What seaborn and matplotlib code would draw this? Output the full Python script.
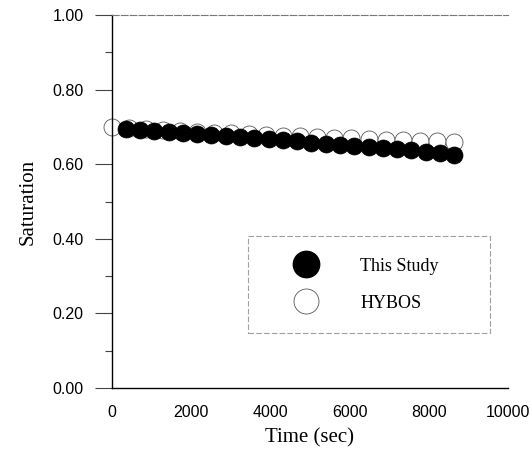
import matplotlib
matplotlib.use("Agg")
import matplotlib.pyplot as plt
import seaborn as sns
import pandas as pd
from matplotlib.lines import Line2D
from matplotlib.ticker import MultipleLocator

study_time = [360, 720, 1080, 1440, 1800, 2160, 2520, 2880, 3240, 3600, 3960, 4320,
              4680, 5040, 5400, 5760, 6120, 6480, 6840, 7200, 7560, 7920, 8280, 8640]
study_sat = [0.694, 0.692, 0.690, 0.687, 0.685, 0.682, 0.679, 0.676, 0.673, 0.670, 0.667, 0.664,
             0.661, 0.658, 0.655, 0.652, 0.649, 0.646, 0.643, 0.640, 0.637, 0.634, 0.630, 0.626]
hybos_time = [0, 432, 864, 1296, 1728, 2160, 2592, 3024, 3456, 3888, 4320, 4752,
              5184, 5616, 6048, 6480, 6912, 7344, 7776, 8208, 8640]
hybos_sat = [0.700, 0.697, 0.694, 0.691, 0.689, 0.687, 0.685, 0.683, 0.681, 0.679, 0.677, 0.675,
             0.673, 0.671, 0.670, 0.668, 0.666, 0.665, 0.663, 0.662, 0.660]
x_ticks = [0, 2000, 4000, 6000, 8000, 10000]
y_ticks = [0.0, 0.2, 0.4, 0.6, 0.8, 1.0]
series_names = ["This Study", "HYBOS"]

sns.set_style("white")
plt.rcParams['font.family'] = ['Liberation Sans', 'DejaVu Sans']
plt.rcParams['text.color'] = 'black'
plt.rcParams['axes.labelcolor'] = 'black'
plt.rcParams['xtick.color'] = 'black'
plt.rcParams['ytick.color'] = 'black'

fig = plt.figure(figsize=(5.31, 4.57), dpi=100)
ax = fig.add_axes([0.21, 0.151, 0.747, 0.816])

df_h = pd.DataFrame({"t": hybos_time, "s": hybos_sat})
df_s = pd.DataFrame({"t": study_time, "s": study_sat})

sns.scatterplot(data=df_h, x="t", y="s", ax=ax, s=150, facecolor="white",
                edgecolor="#555555", linewidth=0.6, zorder=2, clip_on=False)
sns.scatterplot(data=df_s, x="t", y="s", ax=ax, s=150, color="black",
                edgecolor="black", linewidth=0.5, zorder=3, clip_on=False)

ax.set_xlim(0, 10000)
ax.set_ylim(0, 1.0)
ax.set_xticks(x_ticks)
ax.set_xticklabels([f"{v}" for v in x_ticks], fontsize=11.5)
ax.set_yticks(y_ticks)
ax.set_yticklabels([f"{v:.2f}" for v in y_ticks], fontsize=11.5)
ax.yaxis.set_minor_locator(MultipleLocator(0.1))
ax.tick_params(axis="y", which="major", direction="out", length=12, width=0.8,
               color="#444444", left=True, pad=8)
ax.tick_params(axis="y", which="minor", direction="out", length=5, width=0.8,
               color="#444444", left=True)
ax.tick_params(axis="x", which="major", length=0, pad=12)

ax.set_xlabel("Time (sec)", fontsize=15, family=["Liberation Serif"], labelpad=6)
ax.set_ylabel("Saturation", fontsize=15, family=["Liberation Serif"], labelpad=11)

for side in ["left", "bottom"]:
    ax.spines[side].set_color("black")
    ax.spines[side].set_linewidth(1.0)
ax.spines["top"].set_color("#777777")
ax.spines["top"].set_linestyle((0, (6, 2)))
ax.spines["top"].set_linewidth(0.8)
ax.spines["right"].set_visible(False)

handles = [
    Line2D([], [], marker="o", linestyle="none", markersize=19, markerfacecolor="black",
           markeredgecolor="black"),
    Line2D([], [], marker="o", linestyle="none", markersize=18, markerfacecolor="white",
           markeredgecolor="#555555", markeredgewidth=0.6),
]
leg = ax.legend(handles, series_names, loc="lower left", bbox_to_anchor=(0.345, 0.147, 0.61, 0.26),
                mode="expand", frameon=True, fancybox=False, borderpad=1.2, labelspacing=1.1,
                handletextpad=1.0, handlelength=4.0, borderaxespad=0,
                prop={"family": "Liberation Serif", "size": 13})
leg.get_frame().set_edgecolor("#888888")
leg.get_frame().set_linestyle((0, (5, 2)))
leg.get_frame().set_linewidth(0.8)

fig.savefig("out.png", dpi=100)
